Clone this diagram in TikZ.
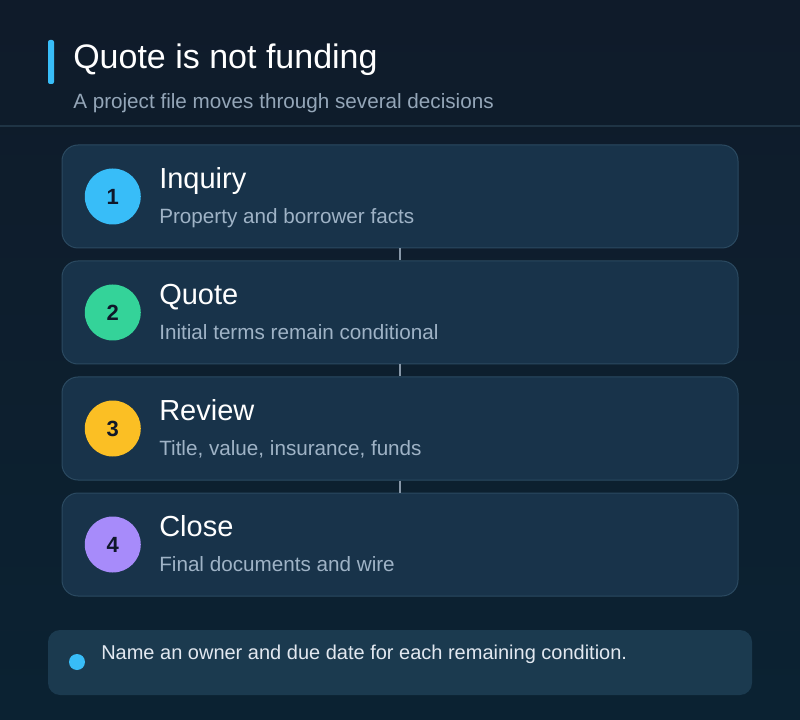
\documentclass[tikz,border=0pt]{standalone}
\usepackage{fontspec}
\setmainfont{Liberation Sans}
\usetikzlibrary{positioning}
\definecolor{bgtop}{HTML}{0F1B2A}
\definecolor{bgbottom}{HTML}{0B2232}
\definecolor{rulecol}{HTML}{1F3445}
\definecolor{accent}{HTML}{38BDF8}
\definecolor{cardfill}{HTML}{18334A}
\definecolor{cardline}{HTML}{2B4A61}
\definecolor{notefill}{HTML}{1B3A4F}
\definecolor{subtext}{HTML}{9FB3C6}
\definecolor{tagtext}{HTML}{94A6B8}
\definecolor{notetext}{HTML}{E2E8F0}
\definecolor{numtext}{HTML}{0F172A}
\definecolor{linkgray}{HTML}{8797A8}
\definecolor{greenstep}{HTML}{34D399}
\definecolor{amberstep}{HTML}{FBBF24}
\definecolor{violetstep}{HTML}{A78BFA}
\begin{document}
\begin{tikzpicture}[x=0.75pt, y=-0.75pt, node distance=9pt,
    card/.style={draw=cardline, fill=cardfill, rounded corners=12pt, line width=0.75pt, minimum width=507pt, minimum height=77.25pt},
    num/.style={circle, minimum size=42pt, inner sep=0pt, font=\fontsize{16.5}{20}\selectfont\bfseries, text=numtext},
    head/.style={anchor=base west, inner sep=0pt, text=white, font=\fontsize{21.75}{26}\selectfont},
    sub/.style={anchor=base west, inner sep=0pt, text=subtext, font=\fontsize{15.5}{18}\selectfont},
    link/.style={draw=linkgray, line width=2pt}]
    % Background
    \useasboundingbox (0,0) rectangle (800,720);
    \fill[top color=bgtop, bottom color=bgbottom] (0,0) rectangle (800,720);
    % Header
    \fill[accent, rounded corners=1.5pt] (48,40) rectangle (54,84);
    \node (title) [anchor=base west, inner sep=0pt, text=white, font=\fontsize{25.5}{30}\selectfont] at (73,68.5) {Quote is not funding};
    \node (tagline) [anchor=base west, inner sep=0pt, text=tagtext, font=\fontsize{15.5}{18}\selectfont] at (73,108.5) {A project file moves through several decisions};
    \draw[rulecol, line width=1pt] (0,126) -- (800,126);
    % Cards
    \node (inquiry) [card] at (400,196.5) {};
    \node (quote) [card, below=of inquiry] {};
    \node (review) [card, below=of quote] {};
    \node (close) [card, below=of review] {};
    % Step numbers
    \node (n1) [num, fill=accent, right=17.25pt of inquiry.west] {1};
    \node (n2) [num, fill=greenstep, right=17.25pt of quote.west] {2};
    \node (n3) [num, fill=amberstep, right=17.25pt of review.west] {3};
    \node (n4) [num, fill=violetstep, right=17.25pt of close.west] {4};
    % Step texts
    \node (h1) [head] at ([xshift=13.5pt, yshift=5.75pt]n1.east) {Inquiry};
    \node (s1) [sub] at ([xshift=13.5pt, yshift=-20.5pt]n1.east) {Property and borrower facts};
    \node (h2) [head] at ([xshift=13.5pt, yshift=5.75pt]n2.east) {Quote};
    \node (s2) [sub] at ([xshift=13.5pt, yshift=-20.5pt]n2.east) {Initial terms remain conditional};
    \node (h3) [head] at ([xshift=13.5pt, yshift=5.75pt]n3.east) {Review};
    \node (s3) [sub] at ([xshift=13.5pt, yshift=-20.5pt]n3.east) {Title, value, insurance, funds};
    \node (h4) [head] at ([xshift=13.5pt, yshift=5.75pt]n4.east) {Close};
    \node (s4) [sub] at ([xshift=13.5pt, yshift=-20.5pt]n4.east) {Final documents and wire};
    % Links
    \draw[link] (inquiry) -- (quote);
    \draw[link] (quote) -- (review);
    \draw[link] (review) -- (close);
    % Note
    \node (note) [fill=notefill, rounded corners=9pt, minimum width=528pt, minimum height=48.75pt] at (400,662.5) {};
    \node (dot) [circle, fill=accent, minimum size=12pt, inner sep=0pt] at (77,662) {};
    \node (notetxt) [anchor=base west, inner sep=0pt, text=notetext, font=\fontsize{15}{18}\selectfont] at (101,659) {Name an owner and due date for each remaining condition.};
\end{tikzpicture}
\end{document}
